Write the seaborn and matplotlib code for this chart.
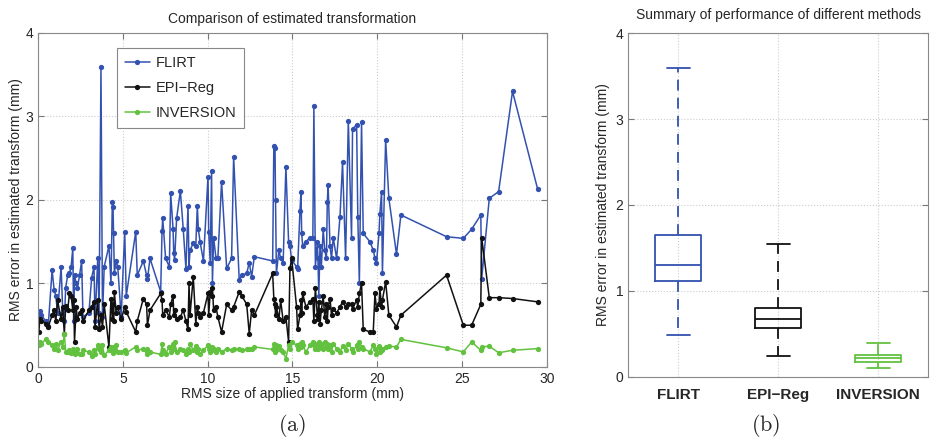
import numpy as np
import pandas as pd
import matplotlib.pyplot as plt
import seaborn as sns

# RMS size of applied transform (mm), shared by all three methods
applied = [0.05, 0.10, 0.20, 0.45, 0.60, 0.83, 0.95, 1.05, 1.15, 1.36,
           1.45, 1.55, 1.63, 1.75, 1.85, 1.95, 2.05, 2.10, 2.15, 2.25,
           2.32, 2.45, 2.57, 2.65, 3.00, 3.16, 3.30, 3.36, 3.52, 3.60,
           3.71, 3.80, 3.90, 4.18, 4.30, 4.38, 4.42, 4.45, 4.50, 4.60,
           4.70, 4.90, 5.11, 5.20, 5.76, 5.85, 6.21, 6.40, 6.45, 6.60,
           7.23, 7.31, 7.35, 7.52, 7.74, 7.82, 7.96, 8.00, 8.05, 8.17,
           8.39, 8.56, 8.72, 8.84, 8.90, 8.96, 9.15, 9.30, 9.39, 9.45,
           9.55, 9.75, 10.02, 10.06, 10.15, 10.23, 10.28, 10.35, 10.49, 10.60,
           10.82, 11.12, 11.41, 11.53, 11.86, 12.02, 12.30, 12.45, 12.59, 12.75,
           13.83, 13.90, 13.97, 14.00, 14.05, 14.20, 14.30, 14.45, 14.61, 14.77,
           14.85, 14.95, 15.24, 15.30, 15.44, 15.50, 15.54, 15.60, 15.79, 16.03,
           16.20, 16.26, 16.35, 16.46, 16.50, 16.55, 16.62, 16.70, 16.81, 16.90,
           17.00, 17.05, 17.10, 17.21, 17.30, 17.40, 17.60, 17.80, 17.95, 18.13,
           18.29, 18.48, 18.54, 18.78, 18.85, 18.94, 19.07, 19.17, 19.56, 19.76,
           19.86, 19.95, 20.10, 20.15, 20.25, 20.30, 20.49, 20.68, 21.13, 21.39,
           24.08, 25.07, 25.56, 26.10, 26.15, 26.60, 27.15, 27.97, 29.45]

flirt = [0.60, 0.67, 0.62, 0.55, 0.49, 1.16, 0.92, 0.85, 0.65, 1.20,
         0.70, 0.55, 0.95, 1.10, 1.12, 1.20, 1.42, 0.55, 1.10, 1.00,
         0.95, 1.10, 1.27, 0.60, 0.65, 1.07, 1.20, 0.55, 1.30, 0.65,
         3.59, 0.60, 1.20, 1.45, 1.00, 1.98, 1.92, 1.60, 1.12, 1.27,
         1.20, 0.60, 1.62, 0.85, 1.62, 1.10, 1.27, 1.10, 1.05, 1.30,
         0.90, 1.63, 1.78, 1.30, 1.20, 2.08, 1.65, 1.37, 1.28, 1.78,
         2.11, 1.65, 1.17, 1.93, 1.20, 1.40, 1.48, 1.45, 1.93, 1.65,
         1.50, 1.27, 2.28, 1.62, 1.25, 2.35, 1.00, 1.55, 1.30, 1.30,
         2.22, 1.18, 1.30, 2.52, 1.04, 1.10, 1.12, 1.25, 1.08, 1.32,
         1.27, 2.65, 2.62, 2.00, 1.12, 1.40, 1.30, 1.25, 2.40, 1.50,
         1.45, 1.28, 1.20, 1.17, 1.87, 2.10, 1.60, 1.45, 1.50, 1.55,
         1.55, 3.12, 1.20, 1.50, 1.30, 0.85, 1.45, 1.20, 1.65, 1.40,
         1.30, 1.97, 2.18, 1.45, 1.30, 1.55, 1.30, 1.80, 2.45, 1.30,
         2.95, 1.55, 2.85, 2.90, 1.80, 1.00, 2.93, 1.60, 1.50, 1.40,
         1.30, 1.25, 1.60, 1.83, 2.10, 1.12, 2.72, 2.02, 1.35, 1.82,
         1.56, 1.54, 1.65, 1.82, 1.05, 2.02, 2.10, 3.30, 2.13]

epi_reg = [0.42, 0.57, 0.55, 0.52, 0.48, 0.62, 0.68, 0.55, 0.80, 0.57,
           0.72, 0.40, 0.73, 0.68, 0.88, 0.85, 0.68, 0.80, 0.30, 0.72,
           0.57, 0.65, 0.68, 0.55, 0.68, 0.72, 0.78, 0.48, 0.80, 0.45,
           0.62, 0.48, 0.75, 0.24, 0.82, 0.57, 0.75, 0.55, 0.90, 0.65,
           0.72, 0.57, 0.72, 0.66, 0.42, 0.55, 0.82, 0.75, 0.50, 0.68,
           0.88, 0.80, 0.62, 0.68, 0.60, 0.75, 0.85, 0.62, 0.68, 0.57,
           0.60, 0.68, 0.55, 0.45, 1.00, 0.62, 1.08, 0.52, 0.72, 0.65,
           0.60, 0.65, 0.88, 0.62, 0.90, 0.85, 0.95, 0.68, 0.72, 0.60,
           0.42, 0.75, 0.68, 0.72, 0.90, 0.85, 0.75, 0.40, 0.68, 0.62,
           1.12, 0.82, 0.75, 0.62, 0.72, 0.57, 0.80, 0.55, 0.60, 0.30,
           1.18, 1.30, 0.72, 0.45, 0.62, 0.80, 0.65, 0.88, 0.72, 0.78,
           0.82, 0.55, 0.95, 0.62, 0.57, 0.78, 0.52, 0.68, 0.85, 0.60,
           0.75, 0.55, 0.72, 0.82, 0.62, 0.70, 0.65, 0.72, 0.78, 0.72,
           0.75, 0.75, 0.70, 0.80, 0.72, 0.88, 1.00, 0.45, 0.42, 0.42,
           0.88, 0.70, 0.75, 0.95, 0.72, 0.80, 1.02, 0.62, 0.48, 0.62,
           1.10, 0.50, 0.50, 0.75, 1.55, 0.83, 0.83, 0.82, 0.78]

inversion = [0.26, 0.30, 0.28, 0.33, 0.30, 0.26, 0.22, 0.28, 0.20, 0.30,
             0.24, 0.40, 0.18, 0.18, 0.20, 0.17, 0.22, 0.20, 0.16, 0.18,
             0.21, 0.16, 0.15, 0.20, 0.18, 0.13, 0.20, 0.16, 0.26, 0.22,
             0.18, 0.26, 0.14, 0.20, 0.24, 0.20, 0.17, 0.24, 0.20, 0.26,
             0.18, 0.18, 0.20, 0.17, 0.24, 0.20, 0.22, 0.16, 0.22, 0.18,
             0.15, 0.27, 0.20, 0.16, 0.24, 0.18, 0.28, 0.22, 0.30, 0.18,
             0.22, 0.20, 0.16, 0.22, 0.18, 0.28, 0.20, 0.25, 0.18, 0.22,
             0.15, 0.20, 0.26, 0.22, 0.18, 0.24, 0.20, 0.22, 0.18, 0.22,
             0.18, 0.22, 0.20, 0.21, 0.22, 0.20, 0.21, 0.22, 0.22, 0.24,
             0.21, 0.28, 0.18, 0.26, 0.20, 0.25, 0.20, 0.18, 0.10, 0.26,
             0.22, 0.30, 0.26, 0.22, 0.27, 0.24, 0.30, 0.26, 0.18, 0.26,
             0.30, 0.26, 0.22, 0.28, 0.22, 0.30, 0.25, 0.28, 0.22, 0.30,
             0.24, 0.28, 0.22, 0.26, 0.18, 0.28, 0.22, 0.18, 0.25, 0.20,
             0.28, 0.22, 0.18, 0.26, 0.22, 0.30, 0.24, 0.22, 0.18, 0.26,
             0.22, 0.15, 0.25, 0.18, 0.22, 0.20, 0.24, 0.25, 0.24, 0.33,
             0.23, 0.18, 0.30, 0.20, 0.24, 0.25, 0.17, 0.20, 0.22]

methods = ['FLIRT', 'EPI\u2212Reg', 'INVERSION']
colors = ['#3352b0', '#111111', '#62c23f']

df = pd.DataFrame({
    'applied': applied * 3,
    'rms': flirt + epi_reg + inversion,
    'method': np.repeat(methods, len(applied)),
})

sns.set_style('ticks')
plt.rcParams['font.family'] = ['Liberation Sans', 'DejaVu Sans']
plt.rcParams['mathtext.fontset'] = 'cm'
plt.rcParams['font.size'] = 10

fig = plt.figure(figsize=(9.39, 4.43), dpi=100)
ax1 = fig.add_axes([0.0405, 0.1716, 0.542, 0.754])
ax2 = fig.add_axes([0.6688, 0.149, 0.3195, 0.7765])

sns.lineplot(data=df, x='applied', y='rms', hue='method', palette=colors,
             estimator=None, sort=False, marker='o', markersize=3.8,
             markeredgewidth=0, linewidth=1.1, ax=ax1)
ax1.set_xlim(0, 30)
ax1.set_ylim(0, 4)
ax1.set_xticks(np.arange(0, 31, 5))
ax1.set_yticks(np.arange(0, 5, 1))
ax1.set_xlabel('RMS size of applied transform (mm)', labelpad=1)
ax1.set_ylabel('RMS error in estimated transform (mm)', labelpad=2)
ax1.set_title('Comparison of estimated transformation', fontsize=10, pad=7)
leg = ax1.legend(loc='upper left', bbox_to_anchor=(0.155, 0.955), fontsize=10.5,
                 fancybox=False, framealpha=1, edgecolor='#888888',
                 handlelength=1.7, handletextpad=0.4, borderpad=0.55,
                 labelspacing=0.75, borderaxespad=0)
leg.get_frame().set_linewidth(0.8)

sns.boxplot(data=df, x='method', y='rms', hue='method', palette=colors,
            fill=False, width=0.46, whis=(0, 100), linewidth=1.3,
            whiskerprops={'linestyle': (0, (6, 4))}, legend=False, ax=ax2)
ax2.set_xlim(-0.5, 2.5)
ax2.set_ylim(0, 4)
ax2.set_yticks(np.arange(0, 5, 1))
ax2.set_xlabel('')
ax2.set_ylabel('RMS error in estimated transform (mm)', labelpad=4)
ax2.set_title('Summary of performance of different methods', fontsize=10, pad=10)
for lab in ax2.get_xticklabels():
    lab.set_fontweight('bold')
    lab.set_fontsize(11)

for ax in (ax1, ax2):
    ax.grid(True, linestyle=':', color='#cccccc', linewidth=0.8)
    ax.tick_params(direction='in', length=4, color='#777777', top=True, right=True)
    for s in ax.spines.values():
        s.set_color('#888888')
        s.set_linewidth(0.8)
ax2.tick_params(axis='x', length=0, pad=8)

fig.text(0.311, 0.028, r'$\mathrm{(a)}$', ha='center', fontsize=16)
fig.text(0.815, 0.028, r'$\mathrm{(b)}$', ha='center', fontsize=16)

fig.savefig('out.png', dpi=100)
